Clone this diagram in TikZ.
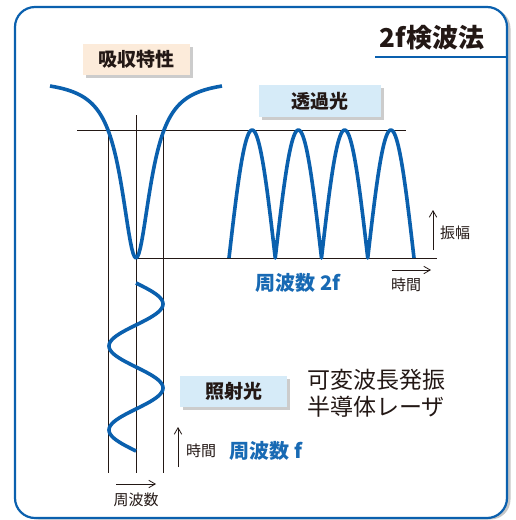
\documentclass[tikz,border=0pt]{standalone}
\usepackage{fontspec}
\newfontfamily\jpfont{Noto Sans CJK JP}
\usepackage{tikz}
\usetikzlibrary{arrows.meta}
\usetikzlibrary{shadows}
\definecolor{waveblue}{RGB}{10,96,174}
\definecolor{textblue}{RGB}{24,106,180}
\definecolor{inkdark}{RGB}{35,24,21}
\definecolor{beige}{RGB}{252,235,218}
\definecolor{paleblue}{RGB}{214,235,248}
\tikzset{
frame/.style={ % outer rounded panel
draw=waveblue, line width=2.2pt, rounded corners=20pt, fill=white,
drop shadow={shadow xshift=3.5pt, shadow yshift=-1.5pt, opacity=.45}},
labelbox/.style={ % boxed captions
fill=paleblue, inner sep=0pt, minimum width=107pt, minimum height=31pt,
font=\jpfont\bfseries\fontsize{19}{22}\selectfont, text=inkdark,
drop shadow={shadow xshift=2.5pt, shadow yshift=-2.5pt, opacity=.4}},
wave/.style={draw=waveblue, line width=3.6pt, line join=round},
axis/.style={draw=inkdark, line width=0.8pt},
axisarrow/.style={axis, -{Straight Barb[length=6.5pt,width=7.5pt]}},
smalltext/.style={font=\jpfont\fontsize{15}{17}\selectfont, text=inkdark},
bluetext/.style={font=\jpfont\bfseries\fontsize{20}{22}\selectfont, text=textblue}}

\begin{document}
\begin{tikzpicture}[x=1pt,y=-1pt]
\useasboundingbox (0,0) rectangle (515,520);
\path[frame] (15,7) rectangle (507,518);

% title
\node[font=\jpfont\bfseries\fontsize{26}{28}\selectfont, text=inkdark] (title) at (432,38) {2f検波法};
\coordinate (ulA) at (375,57);
\coordinate (ulB) at (507,57);
\draw[waveblue, line width=1.6pt] (ulA) -- (ulB);

% captions
\node[labelbox, fill=beige] (absorb) at (136.5,59.5) {吸収特性};
\node[labelbox, minimum width=122pt, minimum height=32pt] (trans) at (320,101) {透過光};
\node[labelbox] (irrad) at (233.5,391.5) {照射光};

% axes
\coordinate (topL) at (77,130);
\coordinate (topR) at (406,130);
\coordinate (botL) at (136,258);
\coordinate (botR) at (437,258);
\coordinate (vL) at (108,130);
\coordinate (vLe) at (108,473);
\coordinate (vC) at (136,115);
\coordinate (vCe) at (136,473);
\coordinate (vR) at (163,130);
\coordinate (vRe) at (163,473);
\draw[axis] (topL) -- (topR);
\draw[axis] (botL) -- (botR);
\draw[axis] (vL) -- (vLe);
\draw[axis] (vC) -- (vCe);
\draw[axis] (vR) -- (vRe);

% waves
\draw[wave] plot[domain=50:222, samples=121] (\x, {258 - 179.3*((\x-136)/17.74)^2/(((\x-136)/17.74)^2+1)});
\draw[wave] plot[domain=229:414, samples=201] (\x, {258 - 128*abs(sin((\x-229)/46.25*180))});
\draw[wave] plot[domain=283:451, samples=121] ({136 + 27*sin((\x-283)/84*360)}, \x);

% small arrows and labels
\coordinate (ampA) at (433,250);
\coordinate (ampB) at (433,210);
\draw[axisarrow] (ampA) -- (ampB);
\node[smalltext] (amp) at (455,233) {振幅};
\coordinate (timeA) at (392,270);
\coordinate (timeB) at (431,270);
\draw[axisarrow] (timeA) -- (timeB);
\node[smalltext] (time) at (406,285) {時間};
\coordinate (ltimeA) at (178,467);
\coordinate (ltimeB) at (178,427);
\draw[axisarrow] (ltimeA) -- (ltimeB);
\node[smalltext] (ltime) at (201,451) {時間};
\coordinate (freqA) at (116,484);
\coordinate (freqB) at (156,484);
\draw[axisarrow] (freqA) -- (freqB);
\node[smalltext] (freq) at (136,500) {周波数};

\node[bluetext] (f2) at (298,283) {周波数 2f};
\node[bluetext] (f1) at (266,451) {周波数 f};
\node[font=\jpfont\fontsize{23}{26.5}\selectfont, text=inkdark, align=left] (laser) at (376,393) {可変波長発振\\半導体レーザ};
\end{tikzpicture}
\end{document}
